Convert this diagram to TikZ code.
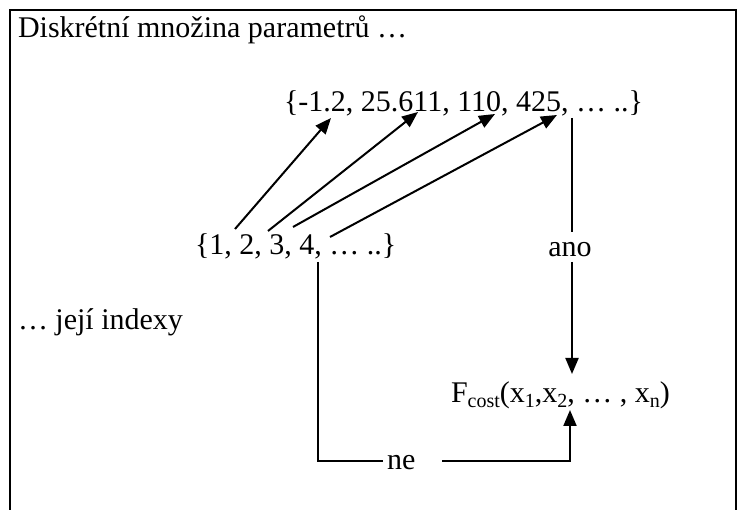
\documentclass[tikz,border=0pt]{standalone}
\usepackage{fontspec}
\setmainfont{Liberation Serif}
\usetikzlibrary{arrows.meta}
\newcommand{\sbs}[1]{\raisebox{-0.3ex}{\fontsize{20}{20}\selectfont #1}}
\begin{document}
\begin{tikzpicture}[x=1pt,y=-1pt,
  txt/.style={inner sep=0pt,outer sep=0pt,font=\fontsize{30}{36}\selectfont},
  conn/.style={line width=2pt},
  arr/.style={conn,-{Triangle[length=16pt,width=13pt]}}]
\useasboundingbox (0,0) rectangle (737,510);
\fill[white] (0,0) rectangle (737,510);
\draw[line width=2pt] (10,510) -- (10,10) -- (736,10) -- (736,510);
% texts
\node[txt,anchor=base west] (title) at (18,38) {Diskrétní množina parametrů …};
\node[txt,anchor=base west] (topset) at (284,112) {\{-1.2, 25.611, 110, 425, … ..\}};
\node[txt,anchor=base west] (lowset) at (195,255) {\{1, 2, 3, 4, … ..\}};
\node[txt,anchor=base] (ano) at (570,257) {ano};
\node[txt,anchor=base west] (idx) at (18,330) {… její indexy};
\node[txt,anchor=base west] (fcost) at (451,403) {F\sbs{cost}(x\sbs{1},x\sbs{2}, … , x\sbs{n})};
\node[txt,anchor=base west] (ne) at (387,470) {ne};
% connector ends
\coordinate (s1) at (235,229);
\coordinate (s2) at (268,231);
\coordinate (s3) at (293,227);
\coordinate (s4) at (330,237);
\coordinate (t1) at (331,118);
\coordinate (t2) at (418,112);
\coordinate (t3) at (495,114);
\coordinate (t4) at (557,115);
\coordinate (v1) at (572,118);
\coordinate (v2) at (572,232);
\coordinate (v3) at (572,262);
\coordinate (v4) at (572,374);
\coordinate (l1) at (318,262);
\coordinate (l2) at (318,461);
\coordinate (l3) at (383,461);
\coordinate (r1) at (442,461);
\coordinate (r2) at (570,461);
\coordinate (r3) at (570,410);
% connectors
\draw[arr] (s1) -- (t1);
\draw[arr] (s2) -- (t2);
\draw[arr] (s3) -- (t3);
\draw[arr] (s4) -- (t4);
\draw[conn] (v1) -- (v2);
\draw[arr] (v3) -- (v4);
\draw[conn] (l1) -- (l2) -- (l3);
\draw[arr] (r1) -- (r2) -- (r3);
\end{tikzpicture}
\end{document}
